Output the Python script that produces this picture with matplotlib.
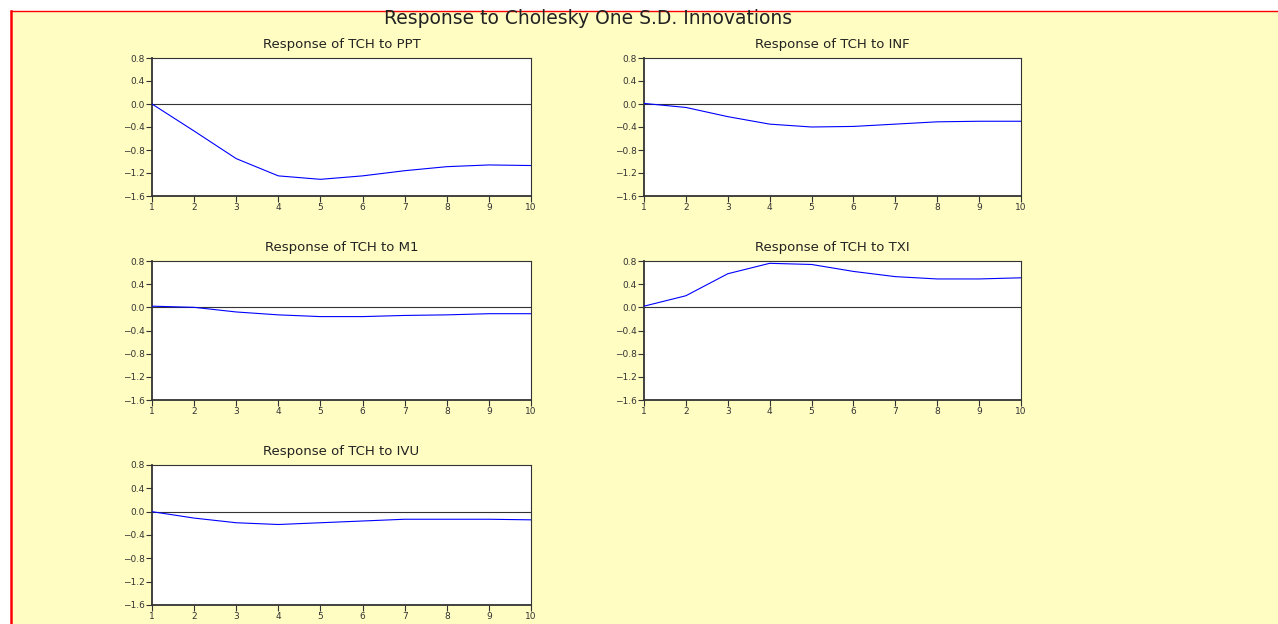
import matplotlib
matplotlib.use("Agg")
import matplotlib.pyplot as plt
from matplotlib.lines import Line2D

periods = [1, 2, 3, 4, 5, 6, 7, 8, 9, 10]
titles = ["Response of TCH to PPT", "Response of TCH to INF", "Response of TCH to M1",
          "Response of TCH to TXI", "Response of TCH to IVU"]
ppt = [0.0, -0.47, -0.95, -1.25, -1.31, -1.25, -1.16, -1.09, -1.06, -1.07]
inf = [0.01, -0.06, -0.22, -0.35, -0.40, -0.39, -0.35, -0.31, -0.30, -0.30]
m1 = [0.02, 0.0, -0.08, -0.13, -0.16, -0.16, -0.14, -0.13, -0.11, -0.11]
txi = [0.02, 0.20, 0.58, 0.76, 0.74, 0.62, 0.53, 0.49, 0.49, 0.51]
ivu = [0.0, -0.11, -0.19, -0.22, -0.19, -0.16, -0.13, -0.13, -0.13, -0.14]
series = [ppt, inf, m1, txi, ivu]
yticks = [0.8, 0.4, 0.0, -0.4, -0.8, -1.2, -1.6]
ytick_labels = ["0.8", "0.4", "0.0", "\u22120.4", "\u22120.8", "\u22121.2", "\u22121.6"]

W, H = 1278, 624
plt.rcParams['font.family'] = ['DejaVu Sans']
fig = plt.figure(figsize=(W / 100, H / 100), dpi=100)
fig.patch.set_facecolor("white")

bg = "#FFFDC2"
# background panel with red border
fig.patches.append(plt.Rectangle((11 / W, 0), 1 - 11 / W, 1 - 11 / H, transform=fig.transFigure,
                                 facecolor=bg, edgecolor="none", zorder=-5))
fig.lines.append(Line2D([11 / W, 11 / W], [0, 1 - 11 / H], transform=fig.transFigure,
                        color="red", lw=1.8, zorder=-4))
fig.lines.append(Line2D([11 / W, 1], [1 - 11 / H, 1 - 11 / H], transform=fig.transFigure,
                        color="red", lw=1.0, zorder=-4))

fig.text(588 / W, 1 - 18 / H, "Response to Cholesky One S.D. Innovations", ha="center", va="center",
         fontsize=13.5, color="#222222")

# pixel boxes: left, top, right, bottom
boxes = [(152, 58, 531, 196), (644, 58, 1021, 196), (152, 261, 531, 400),
         (644, 261, 1021, 400), (152, 465, 531, 605)]

for (l, t, r, b), title, vals in zip(boxes, titles, series):
    ax = fig.add_axes([l / W, 1 - b / H, (r - l) / W, (b - t) / H])
    ax.set_facecolor("white")
    ax.plot(periods, vals, color="blue", lw=0.8, zorder=3)
    ax.axhline(0, color="#333333", lw=0.8, zorder=2)
    ax.set_xlim(1, 10)
    ax.set_ylim(-1.6, 0.8)
    ax.set_xticks(periods)
    ax.set_xticklabels([str(p) for p in periods])
    ax.set_yticks(yticks)
    ax.set_yticklabels(ytick_labels)
    ax.tick_params(direction="out", length=4, width=0.8, labelsize=6.5, pad=1, colors="#333333")
    for s in ax.spines.values():
        s.set_color("#333333")
        s.set_linewidth(0.8)
    ax.spines["left"].set_linewidth(1.3)
    ax.spines["bottom"].set_linewidth(1.3)
    ax.set_title(title, fontsize=9.5, color="#222222", pad=7)

fig.savefig("out.png", dpi=100, facecolor="white")
